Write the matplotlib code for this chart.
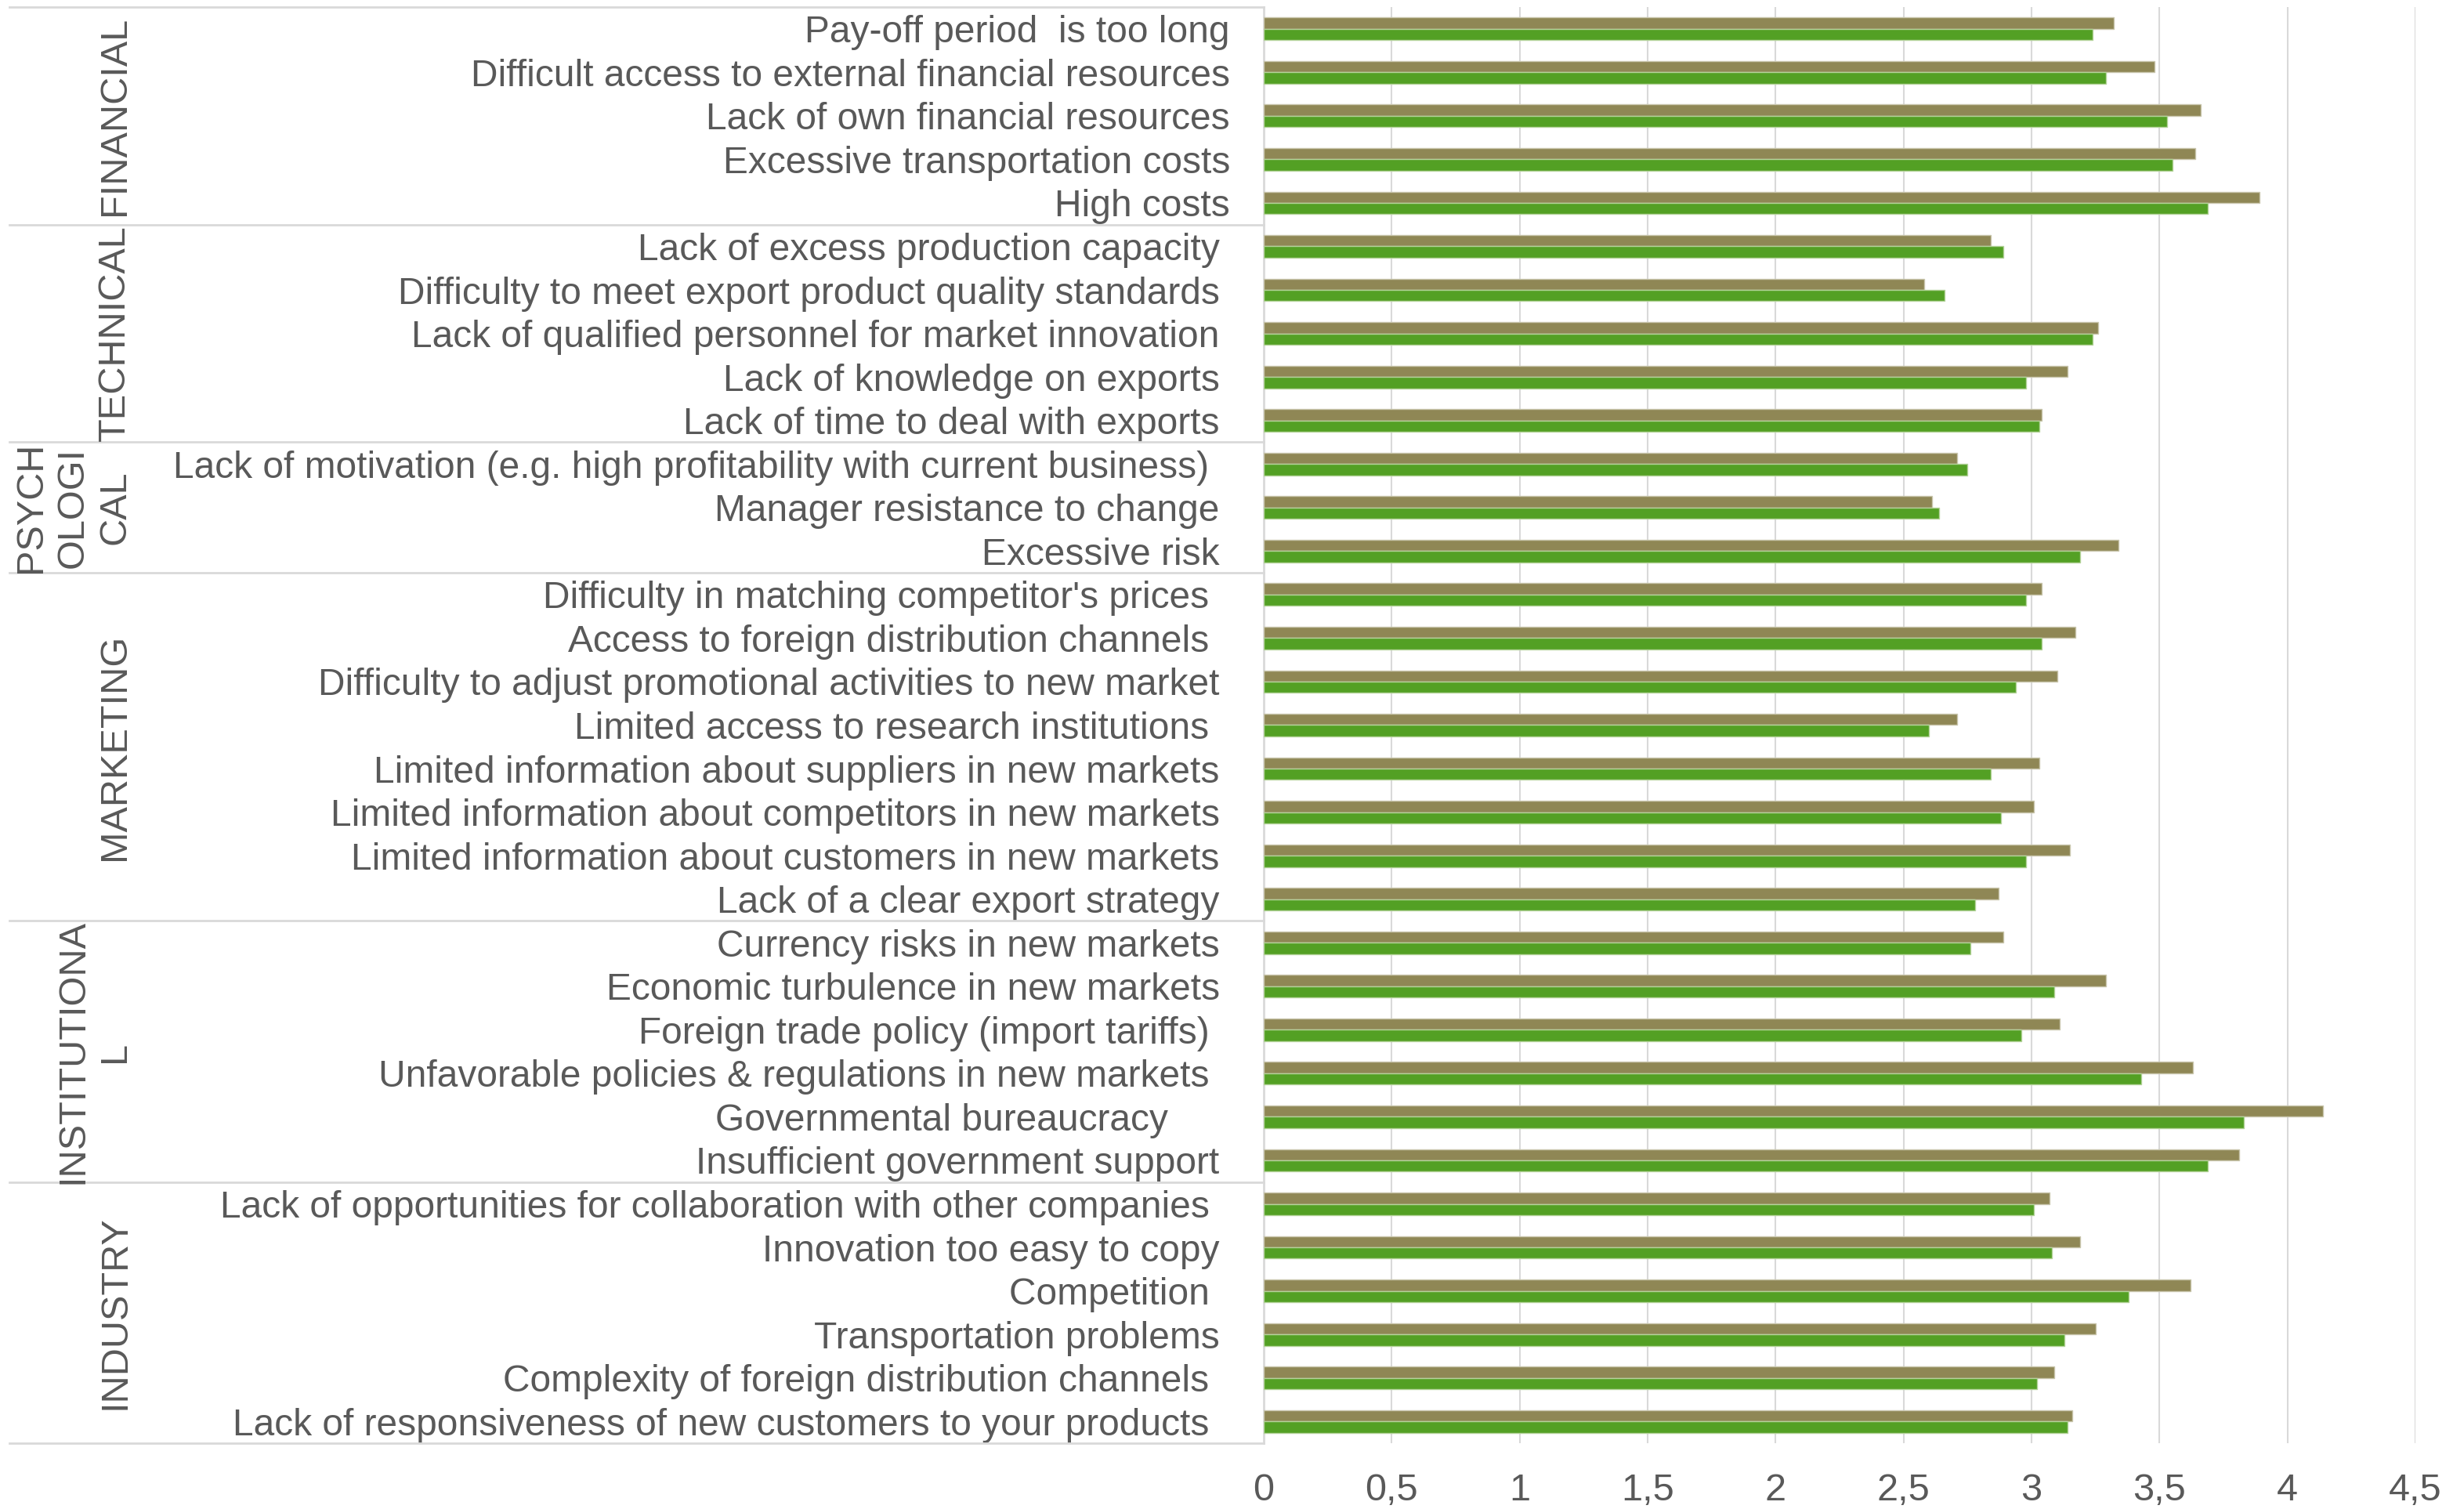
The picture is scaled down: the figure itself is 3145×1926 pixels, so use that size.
import numpy as np
import matplotlib.pyplot as plt
import matplotlib.transforms as mtransforms

plt.rcParams['font.family'] = ['Liberation Sans', 'DejaVu Sans']

# Barriers, top to bottom (trailing spaces kept as in the source labels)
labels = [
    "Pay-off period  is too long",
    "Difficult access to external financial resources",
    "Lack of own financial resources",
    "Excessive transportation costs",
    "High costs",
    "Lack of excess production capacity ",
    "Difficulty to meet export product quality standards ",
    "Lack of qualified personnel for market innovation ",
    "Lack of knowledge on exports ",
    "Lack of time to deal with exports ",
    "Lack of motivation (e.g. high profitability with current business)  ",
    "Manager resistance to change ",
    "Excessive risk ",
    "Difficulty in matching competitor's prices  ",
    "Access to foreign distribution channels  ",
    "Difficulty to adjust promotional activities to new market ",
    "Limited access to research institutions  ",
    "Limited information about suppliers in new markets ",
    "Limited information about competitors in new markets ",
    "Limited information about customers in new markets ",
    "Lack of a clear export strategy ",
    "Currency risks in new markets ",
    "Economic turbulence in new markets ",
    "Foreign trade policy (import tariffs)  ",
    "Unfavorable policies & regulations in new markets  ",
    "Governmental bureaucracy      ",
    "Insufficient government support ",
    "Lack of opportunities for collaboration with other companies  ",
    "Innovation too easy to copy ",
    "Competition  ",
    "Transportation problems ",
    "Complexity of foreign distribution channels  ",
    "Lack of responsiveness of new customers to your products  ",
]

groups = ["FINANCIAL", "TECHNICAL", "PSYCH\nOLOGI\nCAL", "MARKETING",
          "INSTITUTIONA\nL", "INDUSTRY"]
group_sizes = [5, 5, 3, 8, 6, 6]

series_a = [3.32, 3.48, 3.66, 3.64, 3.89,
            2.84, 2.58, 3.26, 3.14, 3.04,
            2.71, 2.61, 3.34,
            3.04, 3.17, 3.10, 2.71, 3.03, 3.01, 3.15, 2.87,
            2.89, 3.29, 3.11, 3.63, 4.14, 3.81,
            3.07, 3.19, 3.62, 3.25, 3.09, 3.16]
series_b = [3.24, 3.29, 3.53, 3.55, 3.69,
            2.89, 2.66, 3.24, 2.98, 3.03,
            2.75, 2.64, 3.19,
            2.98, 3.04, 2.94, 2.60, 2.84, 2.88, 2.98, 2.78,
            2.76, 3.09, 2.96, 3.43, 3.83, 3.69,
            3.01, 3.08, 3.38, 3.13, 3.02, 3.14]

xticks = [0, 0.5, 1, 1.5, 2, 2.5, 3, 3.5, 4, 4.5]
xtick_labels = ["0", "0,5", "1", "1,5", "2", "2,5", "3", "3,5", "4", "4,5"]

text_col = "#595959"
line_col = "#d9d9d9"
col_a = "#8f8755"
col_b = "#53a024"

W, H = 3145, 1926
ax_l, ax_r, ax_t, ax_b = 1613, 3083, 9, 1842

fig = plt.figure(figsize=(W / 100, H / 100), dpi=100)
ax = fig.add_axes([ax_l / W, 1 - ax_b / H, (ax_r - ax_l) / W, (ax_b - ax_t) / H])

y = np.arange(len(labels))
h = 0.26
ax.barh(y - h/2, series_a, height=h, color=col_a, edgecolor="#c9c6ad", linewidth=1.0, zorder=3)
ax.barh(y + h/2, series_b, height=h, color=col_b, edgecolor="#b4d39a", linewidth=1.0, zorder=3)

ax.set_xlim(0, 4.5)
ax.set_ylim(len(labels) - 0.5, -0.5)

ax.set_xticks(xticks)
ax.set_xticklabels(xtick_labels)
ax.set_yticks(y)
ax.set_yticklabels(labels)
ax.tick_params(axis='both', length=0, labelcolor=text_col)
ax.tick_params(axis='y', pad=31, labelsize=34.5)
ax.tick_params(axis='x', pad=27, labelsize=35)

ax.grid(axis='x', color=line_col, linewidth=1.5, zorder=0)
for s in ["top", "right", "bottom"]:
    ax.spines[s].set_visible(False)
ax.spines["left"].set_color(line_col)
ax.spines["left"].set_linewidth(2)

# group separators across the label column and rotated group names
trans = mtransforms.blended_transform_factory(ax.transAxes, ax.transData)
gtrans = mtransforms.blended_transform_factory(fig.transFigure, ax.transData)
x_left = -(ax_l - 12) / (ax_r - ax_l)
start = 0
ax.plot([x_left, 0], [-0.5, -0.5], color=line_col, lw=2, transform=trans, clip_on=False)
for name, n in zip(groups, group_sizes):
    end = start + n
    ax.plot([x_left, 0], [end - 0.5, end - 0.5], color=line_col, lw=2,
            transform=trans, clip_on=False)
    ax.text(169 / W, (start + end - 1) / 2, name, rotation=90, ha='right', va='center',
            multialignment='center', fontsize=35, color=text_col, linespacing=1.25,
            transform=gtrans)
    start = end

fig.savefig("out.png", dpi=100)
